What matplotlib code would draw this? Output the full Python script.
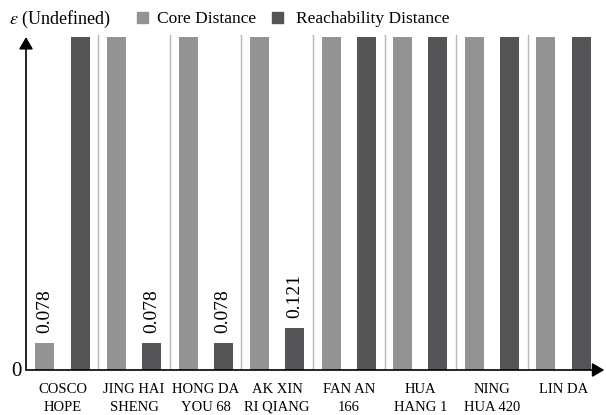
import matplotlib
matplotlib.use('Agg')
import matplotlib.pyplot as plt
from matplotlib.patches import Rectangle
import numpy as np

plt.rcParams['font.family'] = ['Liberation Serif', 'DejaVu Serif']
plt.rcParams['mathtext.fontset'] = 'stix'

# Data (None = undefined, drawn up to epsilon)
ships = ['COSCO\nHOPE', 'JING HAI\nSHENG', 'HONG DA\nYOU 68', 'AK XIN\nRI QIANG',
         'FAN AN\n166', 'HUA\nHANG 1', 'NING\nHUA 420', 'LIN DA']
core_dist = [0.078, None, None, None, None, None, None, None]
reach_dist = [None, 0.078, 0.078, 0.121, None, None, None, None]
eps_height = 0.965

light = '#939396'
dark = '#545457'
sep_color = '#b8b8b8'

W, H = 606, 415
fig = plt.figure(figsize=(W / 100, H / 100), dpi=100)
ax = fig.add_axes([26 / W, 45 / H, (W - 26) / W, 345 / H])
ax.set_xlim(-0.51, 7.594)
ax.set_ylim(0, 1)
for s in ax.spines.values():
    s.set_visible(False)
ax.set_yticks([])

x = np.arange(len(ships))
off = 0.245
bw = 0.265


def heights(vals):
    return [eps_height if v is None else v for v in vals]


ax.bar(x - off, heights(core_dist), width=bw, color=light, zorder=2)
ax.bar(x + off, heights(reach_dist), width=bw, color=dark, zorder=2)

# value labels for defined distances
for xi, v in zip(x - off, core_dist):
    if v is not None:
        ax.text(xi, v + 0.03, f'{v:.3f}', rotation=90, ha='center', va='bottom', fontsize=14)
for xi, v in zip(x + off, reach_dist):
    if v is not None:
        ax.text(xi, v + 0.03, f'{v:.3f}', rotation=90, ha='center', va='bottom', fontsize=14)

# group separators
for xs in x[:-1] + 0.5:
    ax.plot([xs, xs], [0, 0.971], color=sep_color, lw=1.0, zorder=1)

# axes with arrows
arrow = dict(arrowstyle='-|>,head_length=0.6,head_width=0.35', color='black', lw=1.2,
             mutation_scale=12, shrinkA=0, shrinkB=0)
ax.annotate('', xy=(7.57, 0), xytext=(-0.51, 0), arrowprops=arrow, annotation_clip=False)
ax.annotate('', xy=(-0.51, 0.965), xytext=(-0.51, 0), arrowprops=arrow, annotation_clip=False)

ax.set_xticks(x)
ax.set_xticklabels(ships, fontsize=10.5, linespacing=1.5)
ax.tick_params(axis='x', length=0, pad=9)

fig.text(16 / W, 1 - 371 / H, '0', ha='center', va='center', fontsize=15)

# legend row
fig.text(9 / W, 1 - 19 / H, r'$\varepsilon$ (Undefined)', ha='left', va='center', fontsize=13)
fig.add_artist(Rectangle((137 / W, 1 - 23 / H), 11 / W, 11 / H, color=light, transform=fig.transFigure))
fig.text(157 / W, 1 - 19 / H, 'Core Distance', ha='left', va='center', fontsize=12.5)
fig.add_artist(Rectangle((272 / W, 1 - 23 / H), 11 / W, 11 / H, color=dark, transform=fig.transFigure))
fig.text(296 / W, 1 - 19 / H, 'Reachability Distance', ha='left', va='center', fontsize=12.5)

fig.savefig('out.png', dpi=100)
